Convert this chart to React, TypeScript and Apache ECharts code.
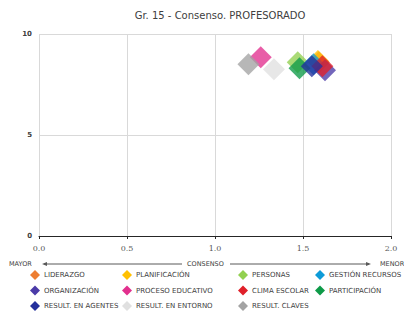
import React, { useEffect, useRef } from "react";
import * as echarts from "echarts";

const seriesNames = [
  "LIDERAZGO",
  "PLANIFICACIÓN",
  "PERSONAS",
  "GESTIÓN RECURSOS",
  "ORGANIZACIÓN",
  "PROCESO EDUCATIVO",
  "CLIMA ESCOLAR",
  "PARTICIPACIÓN",
  "RESULT. EN AGENTES",
  "RESULT. EN ENTORNO",
  "RESULT. CLAVES",
];
const xValues = [1.59, 1.585, 1.47, 1.56, 1.625, 1.26, 1.61, 1.48, 1.55, 1.335, 1.19];
const yValues = [8.6, 8.66, 8.6, 8.5, 8.2, 8.85, 8.4, 8.3, 8.4, 8.25, 8.5];
const colors = [
  "#ED7D31",
  "#FFC000",
  "#92D050",
  "#0E9BD8",
  "#4B3BA8",
  "#E2308E",
  "#E0202A",
  "#0E9A48",
  "#24309C",
  "#E0E0E0",
  "#A3A3A3",
];
const legendColumns = [
  ["LIDERAZGO", "ORGANIZACIÓN", "RESULT. EN AGENTES"],
  ["PLANIFICACIÓN", "PROCESO EDUCATIVO", "RESULT. EN ENTORNO"],
  ["PERSONAS", "CLIMA ESCOLAR", "RESULT. CLAVES"],
  ["GESTIÓN RECURSOS", "PARTICIPACIÓN"],
];
const legendLefts = [30, 122, 238, 315];
const xTicks = [0, 0.5, 1, 1.5, 2];

export default function App() {
  const ref = useRef<HTMLDivElement>(null);
  useEffect(() => {
    if (!ref.current) return;
    const chart = echarts.init(ref.current, null, { renderer: "svg" });
    const font = "DejaVu Sans";
    const arrowY = 264;
    chart.setOption({
      animation: false,
      title: {
        text: "Gr. 15 - Consenso. PROFESORADO",
        left: 215,
        top: 5,
        textAlign: "center",
        textStyle: { fontFamily: font, fontSize: 10, fontWeight: "normal", color: "#404040" },
      },
      grid: { left: 39, right: 13, top: 34, bottom: 77 },
      xAxis: {
        type: "value",
        min: 0,
        max: 2,
        interval: 0.5,
        axisLine: { show: true, onZero: true, lineStyle: { color: "#262626", width: 1 } },
        axisTick: { show: true, length: 3, lineStyle: { color: "#262626" } },
        axisLabel: {
          margin: 8,
          fontFamily: "DejaVu Serif",
          fontSize: 8,
          color: "#595959",
          formatter: (v: number) => (xTicks.includes(v) ? v.toFixed(1) : ""),
        },
        splitLine: { show: true, lineStyle: { color: "#D9D9D9" } },
      },
      yAxis: {
        type: "value",
        min: 0,
        max: 10,
        interval: 5,
        axisLine: { show: false },
        axisTick: { show: false },
        axisLabel: { fontFamily: font, fontSize: 7, fontWeight: "bold", color: "#404040", margin: 7 },
        splitLine: { show: true, lineStyle: { color: "#D9D9D9" } },
      },
      legend: legendColumns.map((col, i) => ({
        data: col,
        orient: "vertical",
        left: legendLefts[i],
        top: 270,
        itemWidth: 10,
        itemHeight: 10,
        itemGap: 5.5,
        padding: 0,
        icon: "diamond",
        selectedMode: false,
        itemStyle: { opacity: 1 },
        textStyle: { fontFamily: font, fontSize: 7, color: "#404040", padding: [0, 0, 0, -1] },
      })),
      series: seriesNames.map((name, i) => ({
        name,
        type: "scatter",
        symbol: "diamond",
        symbolSize: 22,
        itemStyle: { color: colors[i], opacity: 0.78 },
        data: [[xValues[i], yValues[i]]],
      })),
      graphic: [
        {
          type: "text",
          left: 9,
          top: arrowY - 4,
          style: { text: "MAYOR", fontFamily: font, fontSize: 6.5, fill: "#404040" },
        },
        {
          type: "line",
          shape: { x1: 44, y1: arrowY, x2: 182, y2: arrowY },
          style: { stroke: "#595959", lineWidth: 1 },
        },
        {
          type: "polygon",
          shape: { points: [[42, arrowY], [47, arrowY - 2], [47, arrowY + 2]] },
          style: { fill: "#595959" },
        },
        {
          type: "text",
          left: 187,
          top: arrowY - 4,
          style: { text: "CONSENSO", fontFamily: font, fontSize: 6.5, fill: "#404040" },
        },
        {
          type: "line",
          shape: { x1: 230, y1: arrowY, x2: 369, y2: arrowY },
          style: { stroke: "#595959", lineWidth: 1 },
        },
        {
          type: "polygon",
          shape: { points: [[371, arrowY], [366, arrowY - 2], [366, arrowY + 2]] },
          style: { fill: "#595959" },
        },
        {
          type: "text",
          left: 380,
          top: arrowY - 4,
          style: { text: "MENOR", fontFamily: font, fontSize: 6.5, fill: "#404040" },
        },
      ],
    });
    return () => chart.dispose();
  }, []);
  return (
    <div
      ref={ref}
      style={{ position: "fixed", left: 0, top: 0, width: 404, height: 313, background: "#fff" }}
    />
  );
}
